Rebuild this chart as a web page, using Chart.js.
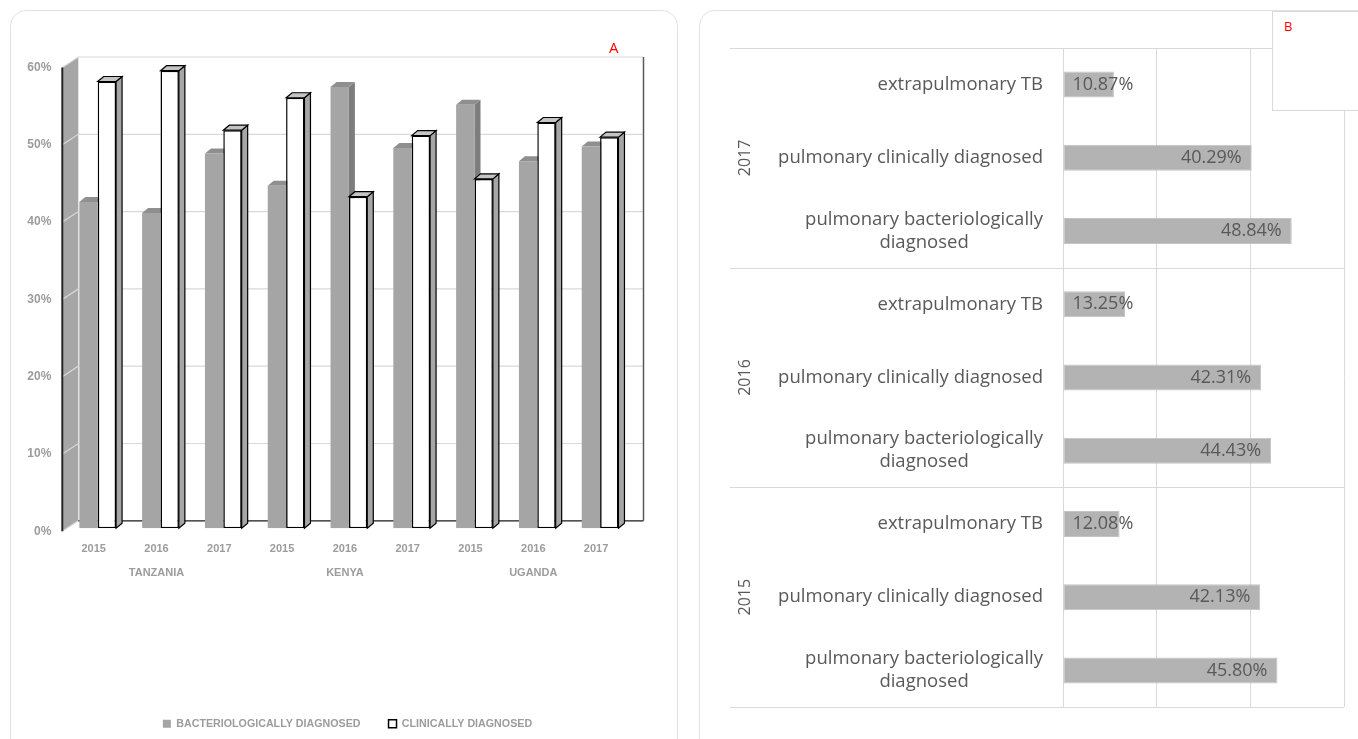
<!DOCTYPE html>
<html>
<head>
<meta charset="utf-8">
<script src="https://cdn.jsdelivr.net/npm/chart.js@4.4.1/dist/chart.umd.min.js"></script>
<style>
  body { margin: 0; background: #fff; width: 1358px; height: 739px; overflow: hidden; position: relative; }
  .card { position: absolute; border: 1.5px solid #e2e2e2; border-radius: 16px; box-sizing: border-box; background: #fff; }
  canvas { position: absolute; }
  #tagA { position: absolute; left: 609px; top: 37px; color: #ff0000; font: 15px 'Open Sans', sans-serif; }
  #boxB { position: absolute; left: 1272px; top: 11px; width: 100px; height: 100px; border: 1px solid #d9d9d9; background: #fff; box-sizing: border-box; }
  #boxB span { position: absolute; left: 11px; top: 5px; color: #ff0000; font: 13px 'Open Sans', sans-serif; }
</style>
</head>
<body>
<div class="card" style="left:10px;top:10px;width:668px;height:780px"></div>
<div class="card" style="left:699px;top:10px;width:700px;height:780px"></div>
<canvas id="byCountry" width="668" height="729" style="left:10px;top:10px"></canvas>
<canvas id="byType" width="658" height="729" style="left:700px;top:10px"></canvas>
<div id="tagA">A</div>
<div id="boxB"><span>B</span></div>
<script>
// panel A - share of TB cases by diagnosis, per country and year
const countries = ['TANZANIA', 'KENYA', 'UGANDA'];
const years = ['2015', '2016', '2017'];
const bacteriological = [42.2, 40.8, 48.5, 44.3, 57.1, 49.2, 54.8, 47.5, 49.4];
const clinical = [57.8, 59.2, 51.5, 55.7, 42.9, 50.8, 45.2, 52.5, 50.6];

// panel B - share by TB type, per year
const typeYears = ['2017', '2016', '2015'];
const tbTypes = [['extrapulmonary TB'], ['pulmonary clinically diagnosed'], ['pulmonary bacteriologically', 'diagnosed']];
const share2017 = [10.87, 40.29, 48.84];
const share2016 = [13.25, 42.31, 44.43];
const share2015 = [12.08, 42.13, 45.80];

const BACK = {x: 12, y: -7.5};   // back wall offset from the bar plane
const FRONT = {x: -4, y: 3};     // front edge offset
const DEPTH = {x: 6, y: -5};     // depth of a single column
const faces = [
    {side: '#7d7d7d', top: '#8f8f8f', edge: null},
    {side: '#a6a6a6', top: '#c4c4c4', edge: '#000'}
];

function poly(ctx, pts, edge) {
    ctx.beginPath();
    ctx.moveTo(pts[0][0], pts[0][1]);
    pts.slice(1).forEach(p => ctx.lineTo(p[0], p[1]));
    ctx.closePath();
    ctx.fill();
    if (edge) { ctx.strokeStyle = edge; ctx.stroke(); }
}

// side and top faces of every column of one dataset
function drawDepth(chart, index) {
    const st = faces[index];
    const ctx = chart.ctx;
    ctx.save();
    ctx.lineWidth = 1.2;
    chart.getDatasetMeta(index).data.forEach(bar => {
        const {x, y, base, width} = bar.getProps(['x', 'y', 'base', 'width'], true);
        const x0 = x - width / 2, x1 = x + width / 2;
        ctx.fillStyle = st.side;
        poly(ctx, [[x1, y], [x1 + DEPTH.x, y + DEPTH.y], [x1 + DEPTH.x, base + DEPTH.y], [x1, base]], st.edge);
        ctx.fillStyle = st.top;
        poly(ctx, [[x0, y], [x0 + DEPTH.x, y + DEPTH.y], [x1 + DEPTH.x, y + DEPTH.y], [x1, y]], st.edge);
    });
    ctx.restore();
}

const box3d = {
    id: 'box3d',
    beforeDatasetsDraw(chart) {
        const {ctx, chartArea: area, scales: {y}} = chart;
        const L = area.left, R = area.right;
        const yTop = y.getPixelForValue(y.max), yBot = y.getPixelForValue(y.min);
        ctx.save();
        // side wall
        ctx.fillStyle = '#a6a6a6';
        poly(ctx, [[L + FRONT.x, yTop + FRONT.y], [L + BACK.x, yTop + BACK.y],
                   [L + BACK.x, yBot + BACK.y], [L + FRONT.x, yBot + FRONT.y]]);
        // grid on side and back wall
        ctx.lineWidth = 1.2;
        ctx.strokeStyle = '#d9d9d9';
        y.ticks.forEach(t => {
            const py = y.getPixelForValue(t.value);
            ctx.beginPath();
            ctx.moveTo(L + FRONT.x, py + FRONT.y);
            ctx.lineTo(L + BACK.x, py + BACK.y);
            if (t.value > 0) ctx.lineTo(R + BACK.x, py + BACK.y);
            ctx.stroke();
        });
        // floor line
        ctx.strokeStyle = '#1a1a1a';
        ctx.beginPath();
        ctx.moveTo(L + BACK.x, yBot + BACK.y);
        ctx.lineTo(R + BACK.x, yBot + BACK.y);
        ctx.stroke();
        // right edge of back wall
        ctx.strokeStyle = '#595959';
        ctx.lineWidth = 1.5;
        ctx.beginPath();
        ctx.moveTo(R + BACK.x, yTop + BACK.y);
        ctx.lineTo(R + BACK.x, yBot + BACK.y);
        ctx.stroke();
        // front edge of the wall
        ctx.strokeStyle = '#262626';
        ctx.lineWidth = 2;
        ctx.beginPath();
        ctx.moveTo(L + FRONT.x, yTop + FRONT.y);
        ctx.lineTo(L + FRONT.x, yBot + FRONT.y);
        ctx.stroke();
        ctx.restore();
        // grey columns' depth goes first so the white fronts hide it
        drawDepth(chart, 0);
    },
    afterDatasetsDraw(chart) {
        drawDepth(chart, 1);
    }
};

const typeLabels = {
    id: 'typeLabels',
    afterDatasetsDraw(chart) {
        const {ctx, chartArea: area, scales: {y}} = chart;
        ctx.save();
        // year group separators
        ctx.strokeStyle = '#d9d9d9';
        ctx.lineWidth = 1;
        for (let g = 0; g <= typeYears.length; g++) {
            const py = Math.round(y.getPixelForValue(g * tbTypes.length - 0.5)) + 0.5;
            ctx.beginPath();
            ctx.moveTo(30, py);
            ctx.lineTo(area.right, py);
            ctx.stroke();
        }
        ctx.fillStyle = '#595959';
        ctx.textBaseline = 'middle';
        ctx.textAlign = 'center';
        // category labels, right aligned as a block
        ctx.font = "18.5px 'Open Sans'";
        chart.data.labels.forEach((lines, i) => {
            const cy = y.getPixelForValue(i);
            const w = Math.max(...lines.map(l => ctx.measureText(l).width));
            const cx = area.left - 20 - w / 2;
            lines.forEach((l, k) => ctx.fillText(l, cx, cy + (k - (lines.length - 1) / 2) * 23));
        });
        // year labels
        ctx.font = "16px 'Open Sans'";
        typeYears.forEach((yr, g) => {
            const cy = y.getPixelForValue(g * tbTypes.length + (tbTypes.length - 1) / 2);
            ctx.save();
            ctx.translate(45, cy);
            ctx.rotate(-Math.PI / 2);
            ctx.fillText(yr, 0, 0);
            ctx.restore();
        });
        // values at the bar ends
        ctx.font = "18px 'Open Sans'";
        ctx.textAlign = 'left';
        const values = chart.data.datasets[0].data;
        chart.getDatasetMeta(0).data.forEach((bar, i) => {
            const txt = values[i].toFixed(2) + '%';
            const w = ctx.measureText(txt).width;
            const {x, y: by, base} = bar.getProps(['x', 'y', 'base'], true);
            ctx.fillText(txt, Math.max(x - 10 - w, base + 9), by);
        });
        ctx.restore();
    }
};

document.addEventListener("DOMContentLoaded", function() {
    const boldFont = {family: "'Liberation Sans', Arial, sans-serif", size: 11, weight: 'bold'};
    const grey = '#9c9c9c';

    const xLabels = countries.flatMap(c => years.map((yr, j) => j === 1 ? [yr, c] : [yr, '']));

    new Chart(document.getElementById('byCountry'), {
        type: 'bar',
        data: {
            labels: xLabels,
            datasets: [{
                label: 'BACTERIOLOGICALLY DIAGNOSED',
                data: bacteriological,
                backgroundColor: '#a5a5a5',
                borderWidth: 0,
            }, {
                label: 'CLINICALLY DIAGNOSED',
                data: clinical,
                backgroundColor: '#ffffff',
                borderColor: '#000000',
                borderWidth: 1.5,
                borderSkipped: false,
            }]
        },
        options: {
            responsive: false,
            animation: false,
            layout: { padding: { left: 7, right: 0, top: 54.5, bottom: 0 } },
            datasets: { bar: { categoryPercentage: 0.585, barPercentage: 1 } },
            scales: {
                x: {
                    grid: { display: false, drawTicks: false },
                    border: { display: false },
                    ticks: {
                        autoSkip: false, maxRotation: 0, padding: 8, labelOffset: -4,
                        color: grey, font: Object.assign({}, boldFont, {lineHeight: 2.227}),
                    },
                    afterFit: s => { s.height = 162; },
                },
                y: {
                    min: 0, max: 60,
                    grid: { display: false, drawTicks: false },
                    border: { display: false },
                    ticks: { stepSize: 10, padding: 15, labelOffset: 3, color: grey,
                             font: Object.assign({}, boldFont, {size: 12}),
                             callback: v => v + '%' },
                    afterFit: s => { s.width = 49.3; },
                },
                yPad: {
                    type: 'linear', position: 'right',
                    grid: { display: false, drawTicks: false },
                    border: { display: false },
                    ticks: { display: false },
                    afterFit: s => { s.width = 46.5; },
                },
            },
            plugins: {
                legend: {
                    position: 'bottom',
                    labels: {
                        boxWidth: 8, boxHeight: 8, padding: 28, color: grey,
                        font: Object.assign({}, boldFont, {size: 10.7}),
                    },
                },
                tooltip: { enabled: false },
            },
        },
        plugins: [box3d],
    });

    new Chart(document.getElementById('byType'), {
        type: 'bar',
        data: {
            labels: typeYears.flatMap(() => tbTypes),
            datasets: [{
                data: [...share2017, ...share2016, ...share2015],
                backgroundColor: '#b3b3b3',
                borderColor: '#c4c4c4',
                borderWidth: 1,
                borderSkipped: false,
                categoryPercentage: 1,
                barPercentage: 0.355,
            }]
        },
        options: {
            indexAxis: 'y',
            responsive: false,
            animation: false,
            layout: { padding: { left: 363, right: 14, top: 38, bottom: 32 } },
            scales: {
                x: {
                    min: 0, max: 60,
                    grid: { color: '#d9d9d9', drawTicks: false },
                    border: { display: false },
                    ticks: { display: false, stepSize: 20 },
                },
                y: { display: false },
            },
            plugins: {
                legend: { display: false },
                tooltip: { enabled: false },
            },
        },
        plugins: [typeLabels],
    });
});
</script>
</body>
</html>
